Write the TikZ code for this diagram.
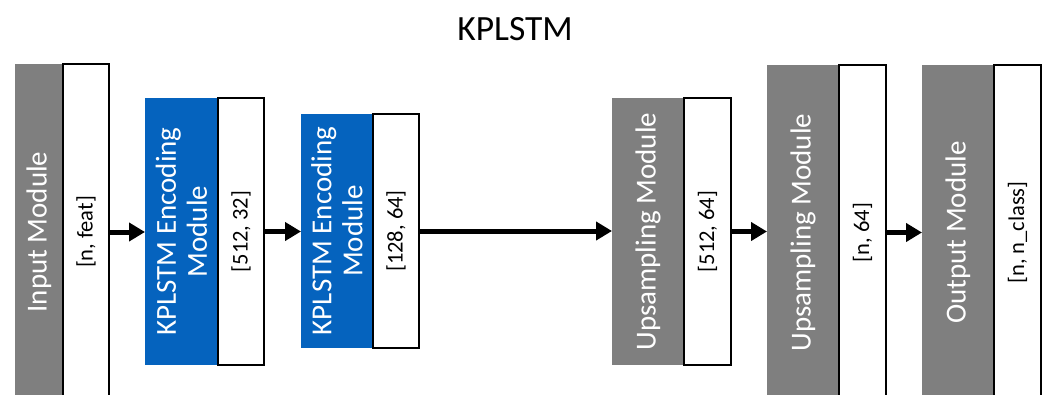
\documentclass[tikz,border=0pt]{standalone}
\usepackage{fontspec}
\setmainfont{Carlito}
\usetikzlibrary{arrows.meta}
\definecolor{modgray}{RGB}{127,127,127}
\definecolor{modblue}{RGB}{5,99,190}

\begin{document}
\begin{tikzpicture}[x=1pt,y=1pt,
  box/.style={inner sep=0pt, outer sep=0pt, anchor=north west},
  graybox/.style={box, fill=modgray},
  bluebox/.style={box, fill=modblue},
  dimbox/.style={box, fill=white, draw=black, line width=1.2pt},
  modtext/.style={rotate=90, text=white, align=center, inner sep=0pt,
                  font=\fontsize{29}{31}\selectfont},
  dimtext/.style={rotate=90, text=black, inner sep=0pt,
                  font=\fontsize{22.5}{26}\selectfont},
  flow/.style={line width=5pt, -{Triangle[length=16pt,width=18pt]}}]

\useasboundingbox (0,0) rectangle (1046,-394);
\clip (0,0) rectangle (1046,-394);

% title
\node[font=\fontsize{35.5}{40}\selectfont, inner sep=0pt] (title) at (515,-29) {KPLSTM};

% input module
\node[graybox, minimum width=48pt, minimum height=336pt] (inp) at (15,-64) {};
\node[dimbox, minimum width=46pt, minimum height=336pt] (inpD) at (63,-64) {};
\node[modtext] (inpT) at (inp.center) {Input Module};
\node[dimtext] (inpL) at (inpD.center) {[n, feat]};

% first encoding module
\node[bluebox, minimum width=73pt, minimum height=267pt] (enc1) at (145,-98) {};
\node[dimbox, minimum width=46pt, minimum height=267pt] (enc1D) at (218,-98) {};
\node[modtext] (enc1T) at (enc1.center) {KPLSTM Encoding\\Module};
\node[dimtext] (enc1L) at (enc1D.center) {[512, 32]};

% second encoding module
\node[bluebox, minimum width=72pt, minimum height=234pt] (enc2) at (301,-114) {};
\node[dimbox, minimum width=46pt, minimum height=234pt] (enc2D) at (373,-114) {};
\node[modtext] (enc2T) at (enc2.center) {KPLSTM Encoding\\Module};
\node[dimtext] (enc2L) at (enc2D.center) {[128, 64]};

% first upsampling module
\node[graybox, minimum width=72pt, minimum height=267pt] (up1) at (612,-98) {};
\node[dimbox, minimum width=47pt, minimum height=267pt] (up1D) at (684,-98) {};
\node[modtext] (up1T) at (up1.center) {Upsampling Module};
\node[dimtext] (up1L) at (up1D.center) {[512, 64]};

% second upsampling module
\node[graybox, minimum width=72pt, minimum height=335pt] (up2) at (767,-65) {};
\node[dimbox, minimum width=47pt, minimum height=335pt] (up2D) at (839,-65) {};
\node[modtext] (up2T) at (up2.center) {Upsampling Module};
\node[dimtext] (up2L) at (up2D.center) {[n, 64]};

% output module
\node[graybox, minimum width=72pt, minimum height=335pt] (out) at (922,-65) {};
\node[dimbox, minimum width=47pt, minimum height=335pt] (outD) at (994,-65) {};
\node[modtext] (outT) at (out.center) {Output Module};
\node[dimtext] (outL) at (outD.center) {[n, n\_class]};

% data flow
\draw[flow] (inpD.east) -- (inpD.east -| enc1.west);
\draw[flow] (enc1D.east) -- (enc1D.east -| enc2.west);
\draw[flow] (enc2D.east) -- (enc2D.east -| up1.west);
\draw[flow] (up1D.east) -- (up1D.east -| up2.west);
\draw[flow] (up2D.east) -- (up2D.east -| out.west);
\end{tikzpicture}
\end{document}
